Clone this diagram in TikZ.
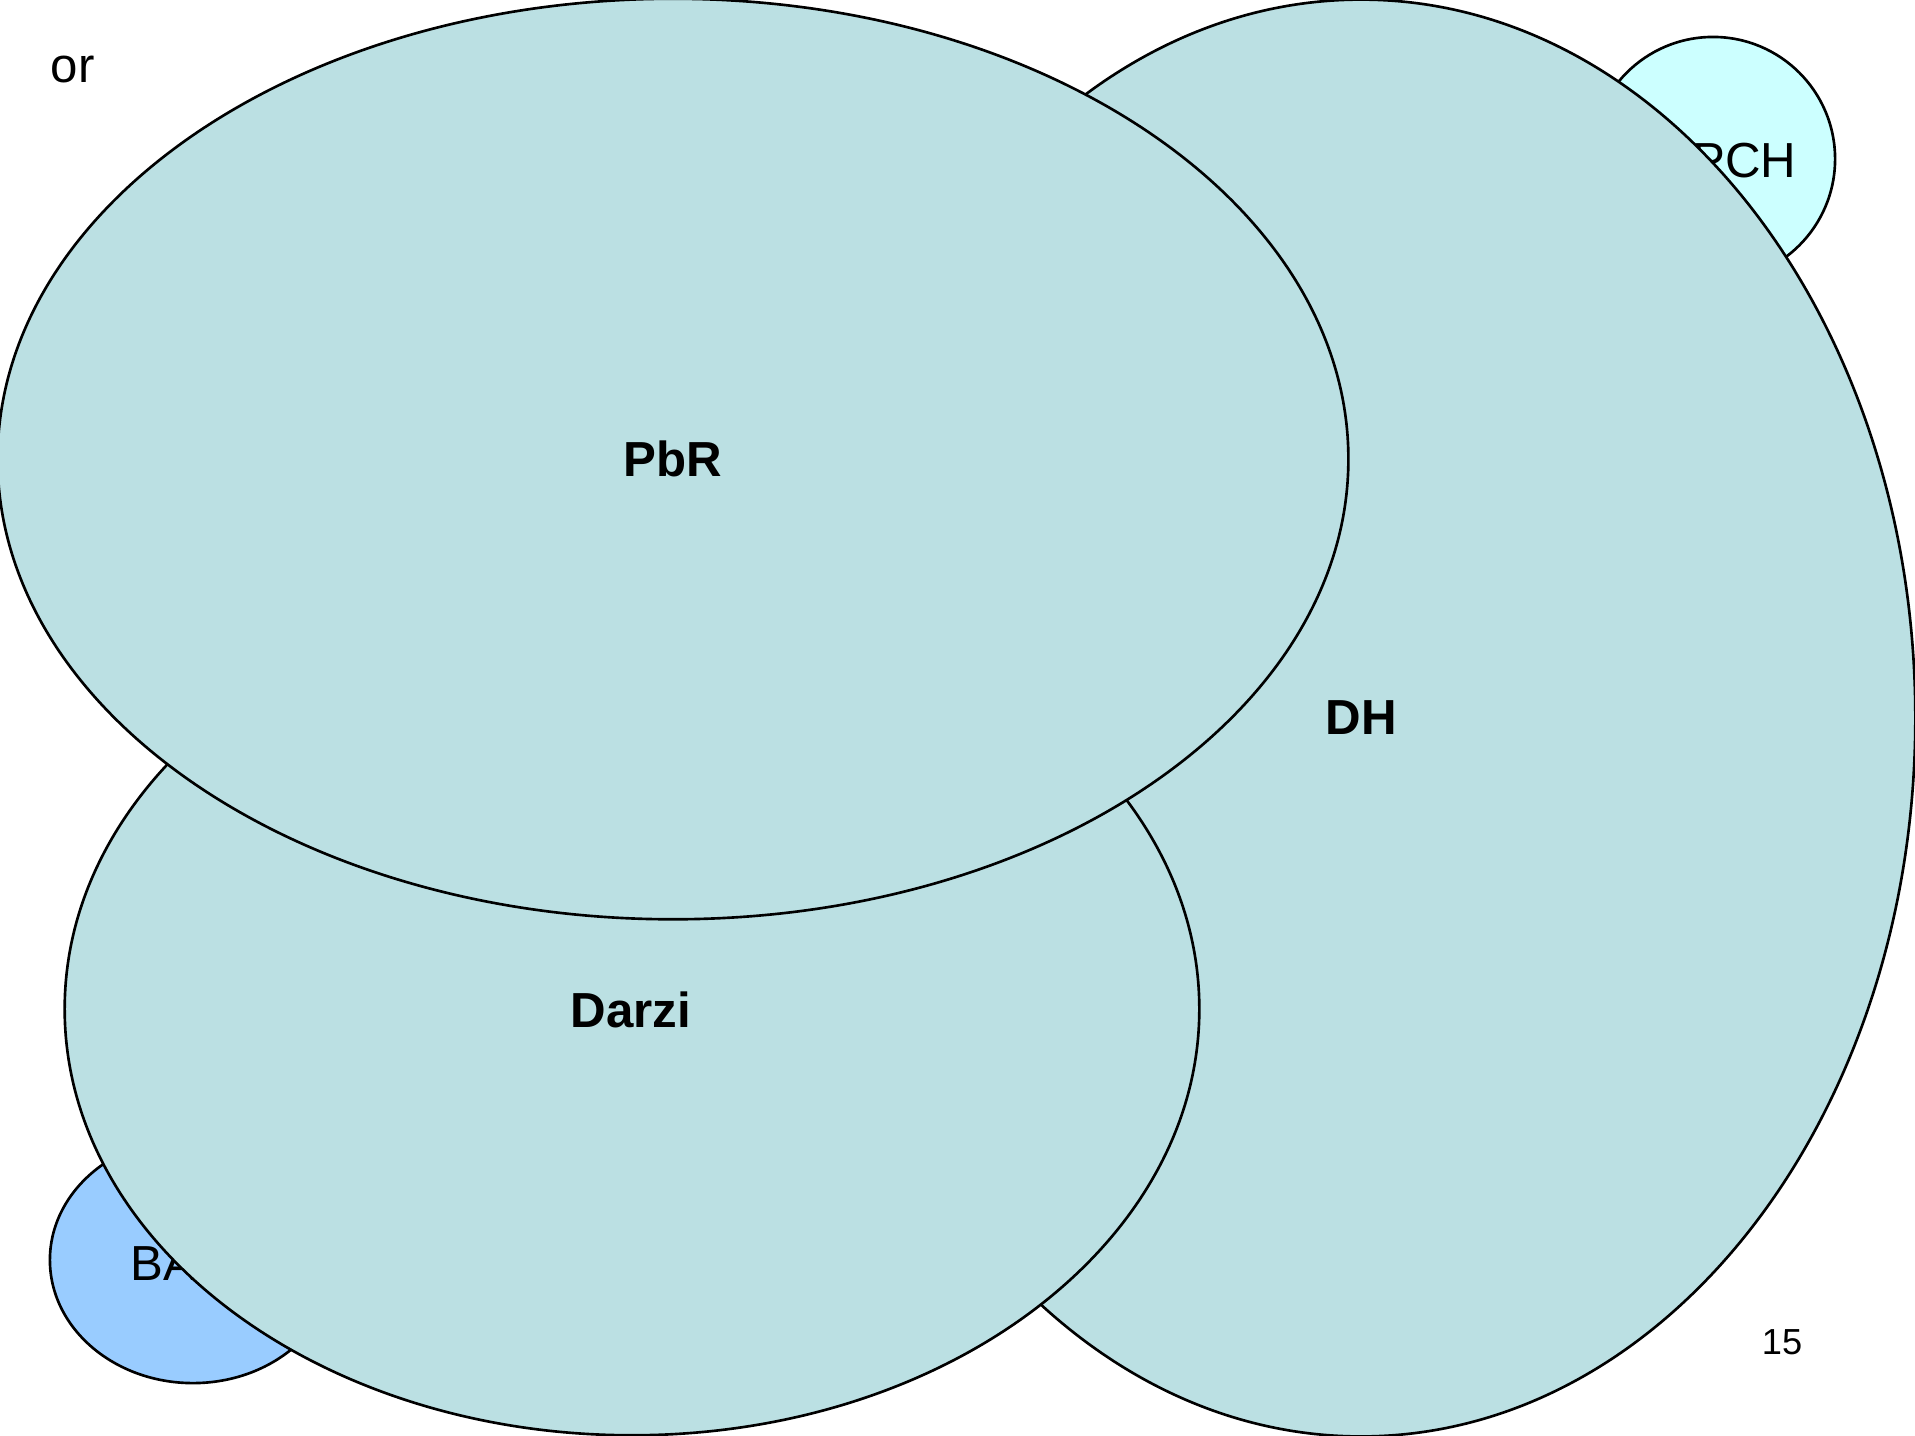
\documentclass[tikz,border=0pt]{standalone}
\usepackage{fontspec}
\setmainfont{Liberation Sans}
\definecolor{setfill}{RGB}{187,224,227}
\definecolor{prchfill}{RGB}{204,255,255}
\definecolor{bafill}{RGB}{153,204,255}
\tikzset{
  setshape/.style={draw=black, line width=0.75pt},
  biglabel/.style={inner sep=0pt, font=\fontsize{14pt}{16pt}\selectfont\bfseries},
  smalllabel/.style={inner sep=0pt, font=\fontsize{14pt}{16pt}\selectfont},
  pagelabel/.style={inner sep=0pt, font=\fontsize{10.3pt}{12pt}\selectfont}
}
\begin{document}
\begin{tikzpicture}[x=0.01cm, y=-0.01cm]
\useasboundingbox (0,0) rectangle (1915,1435);
\clip (0,0) rectangle (1915,1435);
% BA
\path[setshape, fill=bafill] (193,1260) ellipse [x radius=1.43cm, y radius=1.23cm];
\node[smalllabel, anchor=base west] (ba) at (130,1280) {BA};
% PCH
\path[setshape, fill=prchfill] (1713,159) circle [radius=1.22cm];
\node[smalllabel, anchor=base east] (pch) at (1797,177) {PCH};
% DH
\path[setshape, fill=setfill] (1361,718) ellipse [x radius=5.54cm, y radius=7.18cm];
\node[biglabel] (dh) at (1361,718) {DH};
% Darzi
\path[setshape, fill=setfill] (632,1009) ellipse [x radius=5.67cm, y radius=4.26cm];
\node[biglabel] (darzi) at (631,1010) {Darzi};
% PbR
\path[setshape, fill=setfill] (673,459) ellipse [x radius=6.75cm, y radius=4.60cm];
\node[biglabel] (pbr) at (673,459) {PbR};
% other texts
\node[smalllabel, anchor=base west] (or) at (50,82) {or};
\node[pagelabel] (page) at (1782,1342) {15};
\end{tikzpicture}
\end{document}
